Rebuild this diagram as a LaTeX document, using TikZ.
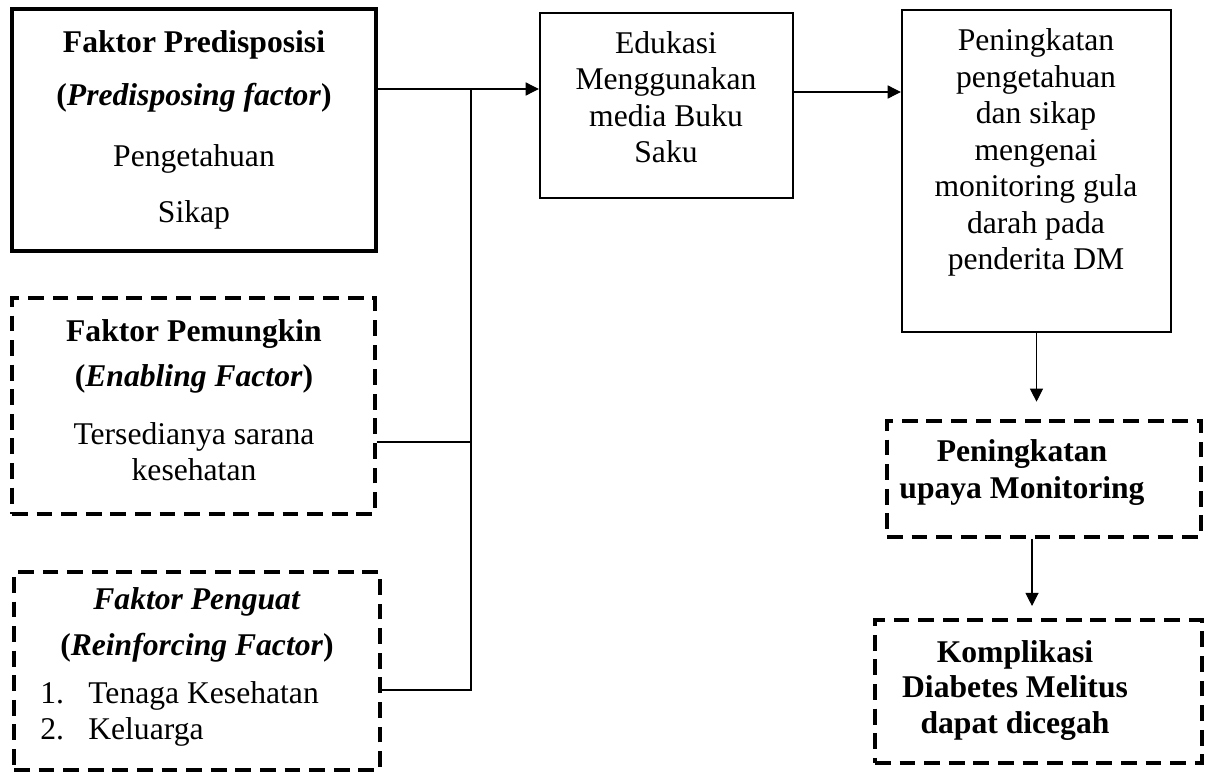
\documentclass[tikz,border=0pt]{standalone}
\usepackage{fontspec}
\setmainfont{Liberation Serif}
\usetikzlibrary{arrows.meta, calc}

\tikzset{
  txt/.style={font=\fontsize{18}{20.8}\selectfont, align=center, inner sep=0pt},
  boxsolid/.style={draw, line width=1.4pt, inner sep=0pt},
  boxthick/.style={boxsolid, line width=2pt},
  boxdash/.style={draw, line width=2pt, dash pattern=on 9pt off 5pt, inner sep=0pt},
  link/.style={line width=0.6pt},
  arrow/.style={link, -{Triangle[length=7.5pt, width=7.5pt]}}
}

\begin{document}
\begin{tikzpicture}[x=0.02cm, y=-0.02cm]
  \useasboundingbox (0,0) rectangle (1209,774);

  % ===== LEFT SIDE: factors =====
  \node[boxthick, minimum width=7.28cm, minimum height=4.84cm] (pre) at (194,130) {};
  \node[txt] (pre-t) at (194,130)
        {\textbf{Faktor Predisposisi}\\[9pt]
         \textbf{(\textit{Predisposing factor})}\\[14pt]
         Pengetahuan\\[11pt]
         Sikap};

  \node[boxdash, minimum width=7.26cm, minimum height=4.32cm] (pem) at (193.5,406) {};
  \node[txt] (pem-t) at (194,400)
        {\textbf{Faktor Pemungkin}\\[5pt]
         \textbf{(\textit{Enabling Factor})}\\[12pt]
         Tersedianya sarana\\
         kesehatan};

  \node[boxdash, minimum width=7.32cm, minimum height=3.96cm] (pen) at (197,671) {};
  \node[txt] (pen-t) at (197,625)
        {\textbf{\textit{Faktor Penguat}}\\[5pt]
         \textbf{(\textit{Reinforcing Factor})}};
  \node[txt, align=left, anchor=west] (pen-l) at (40,714)
        {\makebox[0.96cm][l]{1.}Tenaga Kesehatan\\
         \makebox[0.96cm][l]{2.}Keluarga};

  % ===== Middle: education =====
  \node[boxsolid, minimum width=5.06cm, minimum height=3.7cm] (edu) at (666.5,105.5) {};
  \node[txt] (edu-t) at (666,97)
        {Edukasi\\Menggunakan\\media Buku\\Saku};

  % ===== RIGHT SIDE: outcomes =====
  \node[boxsolid, minimum width=5.38cm, minimum height=6.44cm] (ting) at (1036.5,171) {};
  \node[txt] (ting-t) at (1036,152.5)
        {Peningkatan\\pengetahuan\\dan sikap\\mengenai\\monitoring gula\\darah pada\\penderita DM};

  \node[boxdash, minimum width=6.28cm, minimum height=2.32cm] (mon) at (1044,479) {};
  \node[txt, font=\fontsize{18}{20.8}\selectfont\bfseries] (mon-t) at (1022,472.5)
        {Peningkatan\\upaya Monitoring};

  \node[boxdash, minimum width=6.54cm, minimum height=2.86cm] (kom) at (1038.5,691.5) {};
  \node[txt, font=\fontsize{18}{20}\selectfont\bfseries] (kom-t) at (1015,690.5)
        {Komplikasi\\Diabetes Melitus\\dapat dicegah};

  % Connectors
  \coordinate (jt) at (471,89);
  \coordinate (jm) at (471,442);
  \coordinate (jb) at (471,690);
  \draw[link] (pem.east |- jm) -- (jm);
  \draw[link] (pen.east |- jb) -- (jb) -- (jt);
  \draw[arrow] (pre.east |- jt) -- (edu.west |- jt);
  \draw[arrow] ($(edu.east)+(0,-13.5)$) -- ($(ting.west |- edu.east)+(0,-13.5)$);
  \draw[arrow, shorten >=10pt] (ting.south) -- (ting.south |- mon.north);
  \draw[arrow, shorten >=7pt] ($(mon.south)+(-12,0)$) -- ($(kom.north)+(-6.5,0)$);
\end{tikzpicture}
\end{document}
